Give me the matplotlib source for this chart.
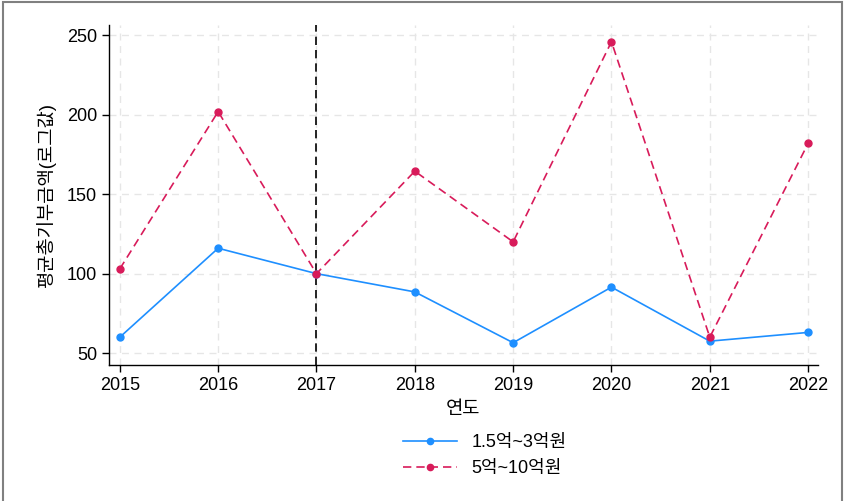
import matplotlib
matplotlib.use('Agg')
import matplotlib.pyplot as plt
from matplotlib.patches import Rectangle

plt.rcParams['font.family'] = ['Liberation Sans', 'Noto Sans CJK KR', 'DejaVu Sans']

years = [2015, 2016, 2017, 2018, 2019, 2020, 2021, 2022]
low_band = [60, 116, 100, 88.5, 56.5, 91.5, 57.5, 63]
high_band = [103, 202, 100, 164.5, 120, 246, 60, 182]
labels = ['1.5억~3억원', '5억~10억원']
yticks = [50, 100, 150, 200, 250]

fig = plt.figure(figsize=(8.45, 5.01), dpi=100)
ax = fig.add_axes([0.129, 0.2715, 0.839, 0.6785])

ax.plot(years, low_band, color='#1E8FFF', lw=1.2, marker='o', ms=5,
        label=labels[0], zorder=3)
ax.plot(years, high_band, color='#D81B5A', lw=1.2, ls=(0, (5, 3)),
        marker='o', ms=5, label=labels[1], zorder=3)
ax.axvline(2017, color='black', lw=1.2, ls=(0, (5, 3)), zorder=2)

ax.set_xlim(2014.89, 2022.1)
ax.set_ylim(42.5, 256.5)
ax.set_xticks(years)
ax.set_yticks(yticks)
ax.tick_params(labelsize=13, length=5, width=1)
ax.grid(True, color='#e6e6e6', ls=(0, (5, 4)), lw=1, zorder=0)
for s in ('top', 'right'):
    ax.spines[s].set_visible(False)
for s in ('left', 'bottom'):
    ax.spines[s].set_linewidth(1)

ax.set_xlabel('연도', fontsize=13.5, labelpad=5)
ax.set_ylabel('평균총기부금액(로그값)', fontsize=13.5, labelpad=8)

ax.legend(loc='upper center', bbox_to_anchor=(0.53, -0.155), frameon=False,
          fontsize=13, handlelength=3.0, labelspacing=0.5, markerscale=0.9)

fig.patches.append(Rectangle((0.003, -0.01), 0.994, 1.006, transform=fig.transFigure,
                             fill=False, edgecolor='#808080', lw=1.5))
fig.savefig('out.png', dpi=100)
